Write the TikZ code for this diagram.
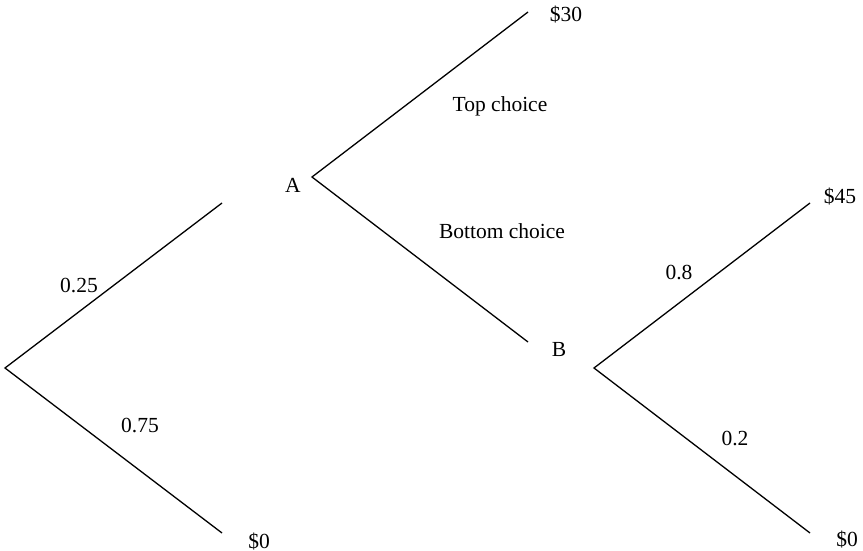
\documentclass[tikz,border=0pt]{standalone}
\usepackage{fontspec}
\setmainfont{Liberation Serif}
\usetikzlibrary{positioning}

\begin{document}
\begin{tikzpicture}[x=1pt, y=-1pt, lbl/.style={anchor=base, inner sep=0pt, font=\fontsize{21.5}{25}\selectfont}]
	\useasboundingbox (0,0) rectangle (863,551);
	% forks
	\node[shape=coordinate] (c) at (5,368) {};
	\node[shape=coordinate] (c1) at (222,203) {};
	\node[shape=coordinate] (c2) at (222,533) {};
	\node[shape=coordinate] (a) at (312,177) {};
	\node[shape=coordinate] (a1) at (528,12) {};
	\node[shape=coordinate] (a2) at (528,342) {};
	\node[shape=coordinate] (b) at (594,368) {};
	\node[shape=coordinate] (b1) at (810,203) {};
	\node[shape=coordinate] (b2) at (810,533) {};
	% labels
	\node[lbl] (p1) at (79,292) {0.25};
	\node[lbl] (p2) at (140,432) {0.75};
	\node[lbl] (v1) at (259,548) {\$0};
	\node[lbl] (la) at (293,192) {A};
	\node[lbl] (v2) at (566,22) {\$30};
	\node[lbl] (t1) at (500,112) {Top choice};
	\node[lbl] (t2) at (502,238) {Bottom choice};
	\node[lbl] (lb) at (559,356) {B};
	\node[lbl] (q1) at (679,279) {0.8};
	\node[lbl] (q2) at (735,445) {0.2};
	\node[lbl] (v3) at (840,203) {\$45};
	\node[lbl] (v4) at (847,546) {\$0};
	\begin{scope}[line width=1.3pt]
		\draw (c1) -- (c) -- (c2);
		\draw (a1) -- (a) -- (a2);
		\draw (b1) -- (b) -- (b2);
	\end{scope}
\end{tikzpicture}
\end{document}
